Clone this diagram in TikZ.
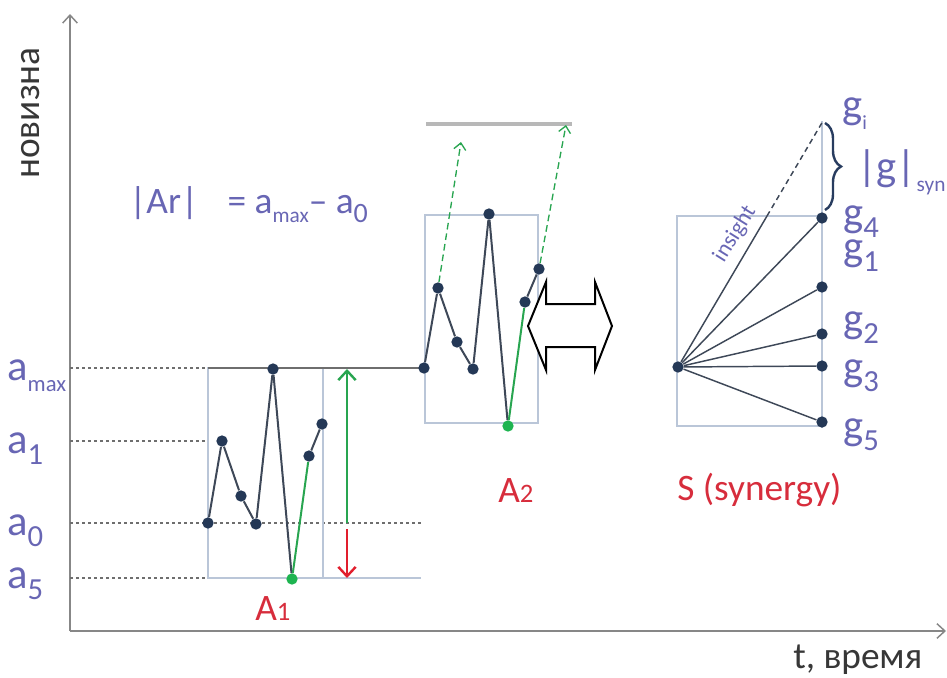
\documentclass[tikz,border=0pt]{standalone}
\usepackage{fontspec}
\setmainfont{Carlito}
\usetikzlibrary{arrows.meta,decorations.pathreplacing}
\definecolor{labc}{RGB}{104,102,180}
\definecolor{redtxt}{RGB}{215,45,60}
\definecolor{ptc}{RGB}{36,56,86}
\definecolor{linec}{RGB}{62,72,88}
\definecolor{framec}{RGB}{186,198,216}
\definecolor{guidec}{RGB}{110,110,110}
\definecolor{axisc}{RGB}{135,135,135}
\definecolor{axtxt}{RGB}{55,55,55}
\definecolor{grn}{RGB}{40,165,80}
\definecolor{grnpt}{RGB}{30,180,80}
\definecolor{redc}{RGB}{225,30,45}
\definecolor{bracec}{RGB}{40,60,95}
\newcommand\lowsub[2][16pt]{\raisebox{-0.26em}{\fontsize{#1}{#1}\selectfont #2}}
\begin{document}
\begin{tikzpicture}[x=0.75pt, y=-0.75pt,
    every node/.style={font=\fontsize{28}{30}\selectfont, inner sep=0pt},
    lbl/.style={text=labc, font=\fontsize{32}{34}\selectfont},
    redlbl/.style={text=redtxt},
    dot/.style={circle, fill=ptc, minimum size=8.5pt},
    gdot/.style={circle, fill=grnpt, minimum size=8.5pt},
    ln/.style={draw=linec, line width=1.5pt},
    gln/.style={draw=grn, line width=1.5pt},
    ray/.style={draw=linec, line width=1.1pt},
    guide/.style={draw=guidec, line width=0.8pt, dash pattern=on 2.5pt off 2pt},
    frame/.style={draw=framec, line width=1pt},
    gdash/.style={draw=grn, line width=1pt, dash pattern=on 5pt off 3pt, -{Straight Barb[length=5pt, width=9pt]}},
    axis/.style={draw=axisc, line width=1.1pt, -{Straight Barb[length=6pt, width=11pt]}}]
  \useasboundingbox (0,0) rectangle (947,678);

  % axes
  \coordinate (o) at (70,631); \coordinate (ytop) at (70,14); \coordinate (xend) at (946,631);
  \draw[axis] (o) -- (ytop); \draw[axis] (o) -- (xend);
  \node[rotate=90, text=axtxt] (ny) at (31,113) {новизна};
  \node[anchor=base west, text=axtxt] (nx) at (793,668) {t, время};

  % levels a
  \coordinate (ymax) at (70,368); \coordinate (y1) at (70,441); \coordinate (y0) at (70,523); \coordinate (y5) at (70,578);
  \coordinate (b1tl) at (208,368); \coordinate (b1br) at (323,578); \coordinate (b1bl) at (208,578);
  \coordinate (b1l1) at (208,441); \coordinate (b1e) at (421,578); \coordinate (b1r0) at (421,523);
  \draw[guide] (ymax) -- (b1tl); \draw[guide] (y1) -- (b1l1); \draw[guide] (y0) -- (b1r0); \draw[guide] (y5) -- (b1bl);
  \draw[frame] (b1tl) rectangle (b1br); \draw[frame] (b1bl) -- (b1e);
  \coordinate (a2s) at (424,368);
  \draw[draw=guidec, line width=1pt] (b1tl) -- (a2s);
  \node[lbl, anchor=base west] (lmax) at (7,380) {a\lowsub[17pt]{max}};
  \node[lbl, anchor=base west] (l1) at (7,453) {a\lowsub[23pt]{1}};
  \node[lbl, anchor=base west] (l0) at (7,535) {a\lowsub[23pt]{0}};
  \node[lbl, anchor=base west] (l5) at (7,588) {a\lowsub[23pt]{5}};
  \node[lbl, font=\fontsize{28}{30}\selectfont, anchor=base west] (form) at (129,213) {|Ar|\hspace{22pt}= a\lowsub{max}– a\lowsub[21pt]{0}};

  % A1
  \node[dot] (p1) at (208,523) {}; \node[dot] (p2) at (222,441) {}; \node[dot] (p3) at (241,496) {}; \node[dot] (p4) at (256,524) {};
  \node[dot] (p5) at (273,369) {}; \node[gdot] (p6) at (292,579) {}; \node[dot] (p7) at (309,456) {}; \node[dot] (p8) at (322,424) {};
  \draw[ln] (p1) -- (p2) -- (p3) -- (p4) -- (p5) -- (p6); \draw[gln] (p6) -- (p7); \draw[ln] (p7) -- (p8);
  \coordinate (ar0) at (347,523); \coordinate (armax) at (347,369); \coordinate (ard0) at (347,529); \coordinate (ard5) at (347,578);
  \draw[draw=grn, line width=1.8pt, -{Straight Barb[length=7pt, width=13pt]}] (ar0) -- (armax);
  \draw[draw=redc, line width=1.8pt, -{Straight Barb[length=7pt, width=13pt]}] (ard0) -- (ard5);
  \node[redlbl, anchor=base west] (nA1) at (255,620) {A{\fontsize{20}{20}\selectfont 1}};

  % A2
  \coordinate (b2tl) at (425,215); \coordinate (b2br) at (538,423);
  \draw[frame] (b2tl) rectangle (b2br);
  \coordinate (c1) at (426,124); \coordinate (c2) at (572,124);
  \draw[draw=black!28, line width=2.4pt] (c1) -- (c2);
  \node[dot] (q1) at (a2s) {}; \node[dot] (q2) at (438,288) {}; \node[dot] (q3) at (457,342) {}; \node[dot] (q4) at (473,369) {};
  \node[dot] (q5) at (489,214) {}; \node[gdot] (q6) at (508,426) {}; \node[dot] (q7) at (525,302) {}; \node[dot] (q8) at (539,269) {};
  \draw[ln] (q1) -- (q2) -- (q3) -- (q4) -- (q5) -- (q6); \draw[gln] (q6) -- (q7); \draw[ln] (q7) -- (q8);
  \coordinate (t1) at (461,142); \coordinate (t2) at (566,125);
  \draw[gdash] (q2) -- (t1); \draw[gdash] (q8) -- (t2);
  \node[redlbl, anchor=base west] (nA2) at (498,502) {A{\fontsize{20}{20}\selectfont 2}};

  % double arrow
  \draw[line width=1.5pt, fill=white] (528,326) -- (546,282) -- (546,304) -- (595,304) -- (595,282) -- (612,326)
    -- (595,370) -- (595,347) -- (546,347) -- (546,370) -- cycle;

  % S
  \coordinate (s1) at (677,216); \coordinate (s2) at (822,426);
  \draw[frame] (s1) rectangle (s2);
  \coordinate (vt) at (822,121); \coordinate (vb) at (822,428);
  \draw[frame] (vt) -- (vb);
  \coordinate (gi) at (823,121); \coordinate (ins) at (767,216);
  \node[dot] (sc) at (678,367) {};
  \node[dot] (gp4) at (822,218) {}; \node[dot] (gp1) at (822,287) {}; \node[dot] (gp2) at (822,334) {};
  \node[dot] (gp3) at (822,366) {}; \node[dot] (gp5) at (822,422) {};
  \draw[ray] (sc) -- (gp4); \draw[ray] (sc) -- (gp1); \draw[ray] (sc) -- (gp2); \draw[ray] (sc) -- (gp3); \draw[ray] (sc) -- (gp5);
  \draw[ray] (sc) -- (ins); \draw[ray, dash pattern=on 4pt off 3pt] (ins) -- (gi);
  \node[lbl, font=\fontsize{17}{17}\selectfont, rotate=58] (nins) at (735,234) {insight};
  \coordinate (bt) at (825,123); \coordinate (bb) at (825,210);
  \draw[draw=bracec, line width=1.8pt, decorate, decoration={brace, amplitude=12pt}] (bt) -- (bb);
  \node[lbl, anchor=west] (lgi) at (842,114) {g\lowsub[15pt]{i}};
  \node[lbl, anchor=west] (lsyn) at (857,172) {|g|\lowsub[16pt]{syn}};
  \node[lbl, anchor=west] (lg4) at (843,222) {g\lowsub[23pt]{4}};
  \node[lbl, anchor=west] (lg1) at (843,256) {g\lowsub[23pt]{1}};
  \node[lbl, anchor=west] (lg2) at (843,328) {g\lowsub[23pt]{2}};
  \node[lbl, anchor=west] (lg3) at (843,376) {g\lowsub[23pt]{3}};
  \node[lbl, anchor=west] (lg5) at (843,435) {g\lowsub[23pt]{5}};
  \node[redlbl, anchor=base west] (nS) at (677,500) {S (synergy)};
\end{tikzpicture}
\end{document}
